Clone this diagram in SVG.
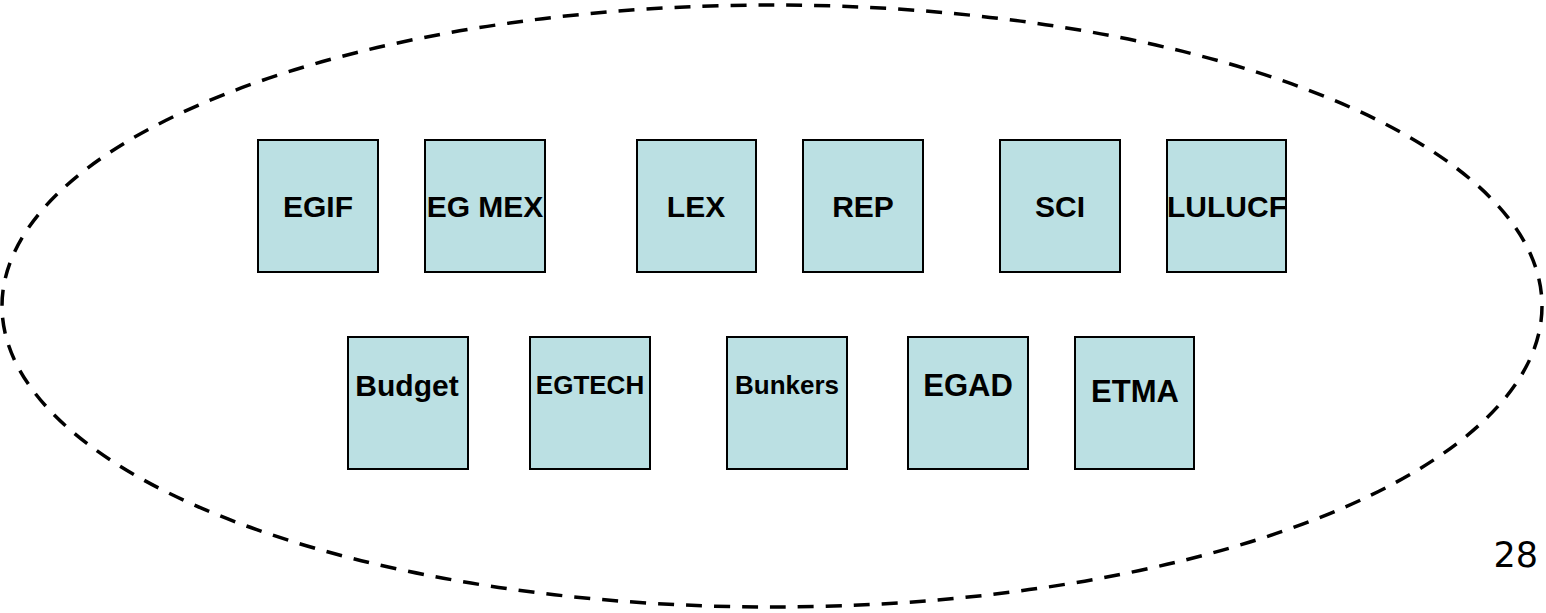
<svg xmlns="http://www.w3.org/2000/svg" width="1546" height="613" viewBox="0 0 1546 613">
<style>
.box rect{fill:#BBE0E3;stroke:#000;stroke-width:2}
.box text{font-family:"Liberation Sans",Arial,sans-serif;font-weight:bold;fill:#000;text-anchor:middle}
.t1{font-size:30px}
.pg{font-family:"DejaVu Sans",Verdana,sans-serif;font-size:35px;fill:#000;text-anchor:end}
</style>
<rect x="0" y="0" width="1546" height="613" fill="#fff"/>
<g id="group-ellipse">
<ellipse cx="772" cy="306" rx="770" ry="301" fill="none" stroke="#000" stroke-width="3.5" stroke-dasharray="16 12"/>
</g>
<g id="connectors"></g>
<g id="EGIF" class="box"><rect x="258" y="140" width="120" height="132"/><text class="t1" x="318" y="217">EGIF</text></g>
<g id="EGMEX" class="box"><rect x="425" y="140" width="120" height="132"/><text class="t1" x="485" y="217">EG MEX</text></g>
<g id="LEX" class="box"><rect x="637" y="140" width="119" height="132"/><text class="t1" x="696" y="217">LEX</text></g>
<g id="REP" class="box"><rect x="803" y="140" width="120" height="132"/><text class="t1" x="863" y="217">REP</text></g>
<g id="SCI" class="box"><rect x="1000" y="140" width="120" height="132"/><text class="t1" x="1060" y="217">SCI</text></g>
<g id="LULUCF" class="box"><rect x="1167" y="140" width="119" height="132"/><text class="t1" x="1227" y="217">LULUCF</text></g>
<g id="Budget" class="box"><rect x="348" y="337" width="120" height="132"/><text x="407" y="396" font-size="30">Budget</text></g>
<g id="EGTECH" class="box"><rect x="530" y="337" width="120" height="132"/><text x="590" y="394" font-size="26">EGTECH</text></g>
<g id="Bunkers" class="box"><rect x="727" y="337" width="120" height="132"/><text x="787" y="394" font-size="26">Bunkers</text></g>
<g id="EGAD" class="box"><rect x="908" y="337" width="120" height="132"/><text x="968" y="396" font-size="31">EGAD</text></g>
<g id="ETMA" class="box"><rect x="1075" y="337" width="119" height="132"/><text x="1135" y="402" font-size="31">ETMA</text></g>
<text class="pg" x="1538" y="567">28</text>
</svg>
